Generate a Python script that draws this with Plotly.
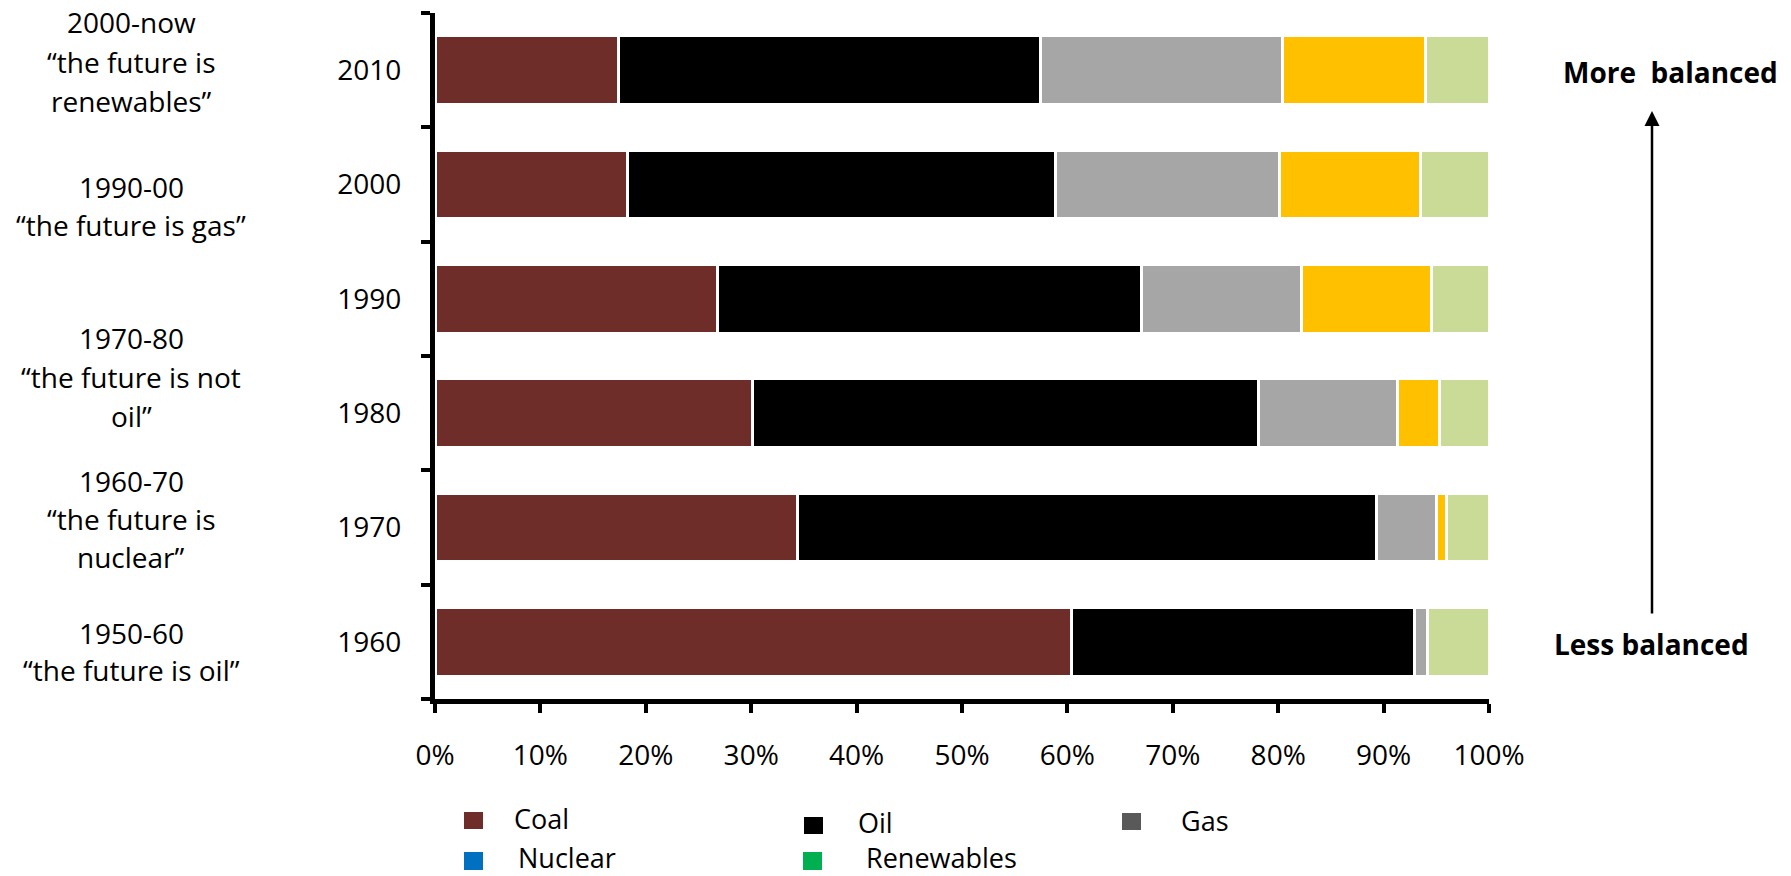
import plotly.graph_objects as go

# Primary energy mix by decade (share of total, %)
years = ["1960", "1970", "1980", "1990", "2000", "2010"]
coal = [60.4, 34.4, 30.1, 26.8, 18.3, 17.4]
oil = [32.5, 54.9, 48.0, 40.2, 40.6, 40.0]
gas = [1.3, 5.7, 13.2, 15.2, 21.2, 23.0]
nuclear = [0.0, 1.0, 4.0, 12.3, 13.4, 13.6]
renewables = [5.8, 4.0, 4.7, 5.5, 6.5, 6.0]

x_ticks = list(range(0, 101, 10))

series = [
    ("Coal", coal, "#6E2D29"),
    ("Oil", oil, "#000000"),
    ("Gas", gas, "#A6A6A6"),
    ("Nuclear", nuclear, "#FFC000"),
    ("Renewables", renewables, "#C9DB97"),
]

# Legend entries (label, swatch colour)
legend_items = [
    ("Coal", "#6E2D29"),
    ("Oil", "#000000"),
    ("Gas", "#595959"),
    ("Nuclear", "#0070C0"),
    ("Renewables", "#00B050"),
]

# Era captions beside the bars
era_lines = [
    ("2000-now", 22), ("\u201cthe future is", 62), ("renewables\u201d", 101),
    ("1990-00", 187), ("\u201cthe future is gas\u201d", 225),
    ("1970-80", 338), ("\u201cthe future is not", 377), ("oil\u201d", 416),
    ("1960-70", 481), ("\u201cthe future is", 519), ("nuclear\u201d", 557),
    ("1950-60", 633), ("\u201cthe future is oil\u201d", 670),
]

W, H = 1791, 876
L, R, T, B = 435, 1489, 13, 699
FONT = "Open Sans"


def fx(p):
    return (p - L) / (R - L)


def fy(p):
    return (B - p) / (B - T)


fig = go.Figure()
for name, vals, col in series:
    fig.add_trace(go.Bar(
        y=years, x=vals, name=name, orientation="h",
        marker=dict(color=col, line=dict(color="white", width=3)),
        showlegend=False, hoverinfo="x+y+name",
    ))

annotations = []
shapes = []

for text, ypx in era_lines:
    annotations.append(dict(
        x=fx(131), y=fy(ypx), xref="paper", yref="paper", text=text,
        showarrow=False, xanchor="center", yanchor="middle",
        font=dict(family=FONT, size=28, color="black"),
    ))

# Legend laid out in a grid: swatch box (x0, x1, y0, y1), text start x, text centre y
legend_pos = [
    ((464, 483, 812, 829), 512, 819),
    ((804, 823, 817, 834), 856, 823),
    ((1122, 1141, 813, 830), 1179, 820),
    ((464, 483, 852, 870), 516, 857),
    ((803, 822, 852, 870), 864, 857),
]
for (label, col), ((x0, x1, y0, y1), tx, ty) in zip(legend_items, legend_pos):
    shapes.append(dict(
        type="rect", xref="paper", yref="paper",
        x0=fx(x0), x1=fx(x1), y0=fy(y1), y1=fy(y0),
        fillcolor=col, line=dict(width=0),
    ))
    annotations.append(dict(
        x=fx(tx), y=fy(ty), xref="paper", yref="paper", text=label,
        showarrow=False, xanchor="left", yanchor="middle",
        font=dict(family=FONT, size=27, color="black"),
    ))

annotations.append(dict(
    x=fx(1670), y=fy(72), xref="paper", yref="paper", text="<b>More  balanced</b>",
    showarrow=False, xanchor="center", yanchor="middle",
    font=dict(family=FONT, size=28, color="black"),
))
annotations.append(dict(
    x=fx(1651), y=fy(644), xref="paper", yref="paper", text="<b>Less balanced</b>",
    showarrow=False, xanchor="center", yanchor="middle",
    font=dict(family=FONT, size=28, color="black"),
))
# Upward arrow between the two captions
annotations.append(dict(
    x=fx(1652), y=fy(111), xref="paper", yref="paper",
    ax=0, ay=504, axref="pixel", ayref="pixel", text="",
    showarrow=True, arrowhead=2, arrowsize=1.2, arrowwidth=2.5,
    arrowcolor="black", standoff=0,
))

fig.update_layout(
    width=W, height=H,
    margin=dict(l=L, r=W - R, t=T, b=H - B),
    barmode="stack", bargap=0.40,
    plot_bgcolor="white", paper_bgcolor="white",
    font=dict(family=FONT, size=28, color="black"),
    annotations=annotations, shapes=shapes,
    showlegend=False,
)
fig.update_xaxes(
    range=[0, 100], tickvals=x_ticks, ticktext=[f"{v}%" for v in x_ticks],
    showgrid=False, zeroline=False,
    showline=True, linecolor="black", linewidth=5,
    ticks="outside", ticklen=9, tickwidth=4, tickcolor="black",
    tickfont=dict(family=FONT, size=28, color="black"),
    ticklabelstandoff=18,
)
fig.update_yaxes(
    type="category", categoryorder="array", categoryarray=years,
    showgrid=False, zeroline=False,
    showline=True, linecolor="black", linewidth=5,
    ticks="outside", tickson="boundaries", ticklen=9, tickwidth=4, tickcolor="black",
    tickfont=dict(family=FONT, size=28, color="black"),
    ticklabelstandoff=23,
)

fig.write_html("out.html")
